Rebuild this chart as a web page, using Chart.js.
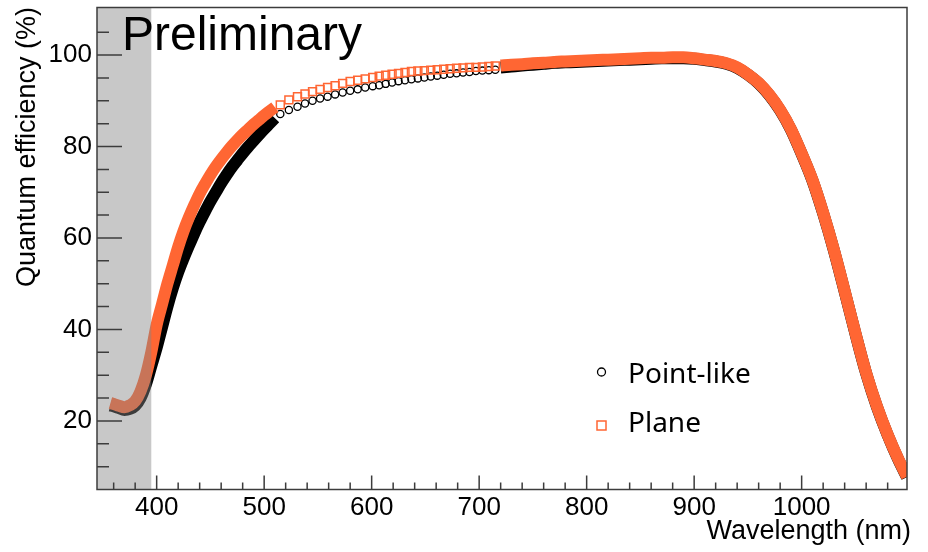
<!DOCTYPE html>
<html>
<head>
<meta charset="utf-8">
<title>Quantum efficiency</title>
<script src="https://cdn.jsdelivr.net/npm/chart.js@4.4.1/dist/chart.umd.min.js"></script>
<style>
	html, body { margin: 0; padding: 0; background: #ffffff; }
	#wrap { width: 928px; height: 552px; }
</style>
</head>
<body>
<div id="wrap"><canvas id="qeChart" width="928" height="552"></canvas></div>
<script>
// dense scan up to 510 nm
const riseWl = [357, 360, 365, 370, 375, 380, 385, 390, 395, 400, 405, 410, 415, 420, 425, 430,
	435, 440, 445, 450, 455, 460, 465, 470, 475, 480, 485, 490, 495, 500, 505, 510];
const planeRise = [23.9, 23.7, 23.3, 23.0, 23.4, 24.3, 26.5, 30.0, 35.0, 41.0, 45.5, 50.0, 54.0, 58.0, 61.5, 64.5,
	67.2, 69.7, 71.8, 73.8, 75.6, 77.2, 78.7, 80.1, 81.4, 82.6, 83.7, 84.8, 85.8, 86.8, 87.7, 88.6];
const pointRise = [23.4, 23.2, 22.8, 22.4, 22.6, 23.3, 25.0, 28.0, 32.0, 36.0, 40.5, 45.0, 49.0, 52.5, 55.5, 58.3,
	61.0, 63.5, 65.8, 68.0, 70.0, 72.0, 73.8, 75.5, 77.0, 78.5, 79.9, 81.2, 82.5, 83.8, 85.0, 86.2];

// coarse scan, shown as open markers
const stepWl = [515, 523, 531, 538, 545, 552, 559, 566, 573, 580, 587, 594, 601, 607, 613, 619,
	625, 631, 637, 643, 649, 655, 661, 667, 673, 679, 685, 691, 697, 703, 709, 715];
const planeStep = [89.1, 90.2, 90.9, 91.5, 92.0, 92.5, 92.9, 93.3, 93.8, 94.2, 94.5, 94.8, 95.1, 95.4, 95.6, 95.8,
	96.0, 96.2, 96.4, 96.5, 96.6, 96.7, 96.8, 96.9, 97.0, 97.1, 97.2, 97.3, 97.3, 97.4, 97.5, 97.6];
const pointStep = [87.1, 88.0, 88.7, 89.4, 90.0, 90.5, 90.9, 91.4, 91.8, 92.2, 92.5, 92.9, 93.2, 93.4, 93.7, 94.0,
	94.3, 94.5, 94.7, 94.9, 95.1, 95.3, 95.5, 95.7, 95.9, 96.0, 96.2, 96.3, 96.5, 96.6, 96.7, 96.8];

// dense scan from 720 nm to the end of the range
const tailWl = [720, 730, 740, 750, 760, 770, 780, 790, 800, 810, 820, 830, 840, 850, 860, 870, 880, 890, 900,
	910, 920, 930, 940, 950, 960, 970, 980, 990, 1000, 1010, 1020, 1030, 1040, 1050, 1060, 1070, 1080, 1090, 1098];
const planeTail = [97.7, 97.9, 98.0, 98.2, 98.3, 98.5, 98.6, 98.7, 98.8, 98.9, 99.0, 99.1, 99.2, 99.3, 99.4, 99.4, 99.5, 99.5, 99.3,
	99.0, 98.7, 98.2, 97.3, 95.8, 93.9, 91.3, 88.0, 83.8, 78.5, 72.7, 65.5, 57.4, 48.4, 39.2, 30.5, 23.2, 17.0, 11.6, 7.8];
const pointTail = [97.3, 97.5, 97.7, 97.9, 98.1, 98.3, 98.4, 98.5, 98.6, 98.7, 98.8, 98.9, 99.0, 99.1, 99.2, 99.3, 99.3, 99.3, 99.2,
	98.9, 98.6, 98.1, 97.2, 95.7, 93.8, 91.2, 87.9, 83.7, 78.4, 72.6, 65.4, 57.3, 48.3, 39.1, 30.4, 23.1, 16.9, 11.5, 7.7];

const xTicks = [400, 500, 600, 700, 800, 900, 1000];
const yTicks = [20, 40, 60, 80, 100];
const shadedUntil = 395;

const ORANGE = "#ff6633";
const INK = "#000000";
const FONT = "'Liberation Sans', Arial, sans-serif";

function pts(xs, ys) {
	return xs.map((x, i) => ({ x: x, y: ys[i] }));
}

function band(data, color, order) {
	return {
		data: data,
		showLine: true,
		borderColor: color,
		borderWidth: 12,
		borderCapStyle: "butt",
		cubicInterpolationMode: "monotone",
		pointRadius: 0,
		clip: 0,
		order: order,
	};
}

function markers(data, color, style, radius, width, order) {
	return {
		data: data,
		showLine: false,
		pointStyle: style,
		pointRadius: radius,
		pointBorderWidth: width,
		pointBorderColor: color,
		pointBackgroundColor: "rgba(0,0,0,0)",
		clip: 0,
		order: order,
	};
}

// shaded region, tick marks, frame and texts
const decorations = {
	id: "decorations",
	afterDatasetsDraw(chart) {
		const { ctx, chartArea: a, scales } = chart;
		const x = scales.x;
		const y = scales.y;
		ctx.save();

		const xr = x.getPixelForValue(shadedUntil);
		ctx.fillStyle = "rgba(133,133,133,0.45)";
		ctx.fillRect(a.left, a.top, xr - a.left, a.bottom - a.top);

		ctx.strokeStyle = "#3c3c3c";
		ctx.lineWidth = 1.5;
		ctx.beginPath();
		for (let v = 360; v <= 1080; v += 20) {
			const px = x.getPixelForValue(v);
			const len = v % 100 === 0 ? 14 : 7;
			ctx.moveTo(px, a.bottom);
			ctx.lineTo(px, a.bottom - len);
		}
		for (let v = 10; v <= 105; v += 5) {
			const py = y.getPixelForValue(v);
			const len = v % 20 === 0 ? 25 : 12;
			ctx.moveTo(a.left, py);
			ctx.lineTo(a.left + len, py);
		}
		ctx.stroke();
		ctx.strokeRect(a.left, a.top, a.right - a.left, a.bottom - a.top);

		ctx.fillStyle = INK;
		ctx.textBaseline = "alphabetic";
		ctx.font = "48px " + FONT;
		ctx.textAlign = "left";
		ctx.fillText("Preliminary", 122, 50);

		ctx.font = "27px " + FONT;
		ctx.textAlign = "right";
		ctx.fillText("Wavelength (nm)", 911, 539);

		ctx.save();
		ctx.translate(35, 7);
		ctx.rotate(-Math.PI / 2);
		ctx.textAlign = "right";
		ctx.fillText("Quantum efficiency (%)", 0, 0);
		ctx.restore();

		// legend
		ctx.lineWidth = 1.3;
		ctx.strokeStyle = INK;
		ctx.beginPath();
		ctx.arc(601.5, 372, 4, 0, Math.PI * 2);
		ctx.stroke();
		ctx.lineWidth = 1.5;
		ctx.strokeStyle = ORANGE;
		ctx.strokeRect(597, 421, 9, 9);

		ctx.font = "28px 'Noto Sans', 'Open Sans', sans-serif";
		ctx.textAlign = "left";
		ctx.fillStyle = INK;
		ctx.fillText("Point-like", 628, 383);
		ctx.fillText("Plane", 628, 431.5);
		ctx.restore();
	},
};

function qeChart() {
	const config = {
		type: "scatter",
		data: {
			datasets: [
				band(pts(riseWl, planeRise), ORANGE, 0),
				band(pts(tailWl, planeTail), ORANGE, 0),
				markers(pts(stepWl, planeStep), ORANGE, "rect", 5.6, 1.5, 0),
				band(pts(riseWl, pointRise), INK, 1),
				band(pts(tailWl, pointTail), INK, 1),
				markers(pts(stepWl, pointStep), INK, "circle", 3.6, 1.3, 1),
			],
		},
		options: {
			responsive: false,
			animation: false,
			layout: {
				padding: { left: 0, right: 21, top: 7.5, bottom: 0 },
			},
			plugins: {
				legend: { display: false },
				tooltip: { enabled: false },
			},
			scales: {
				x: {
					type: "linear",
					min: 344.5,
					max: 1098,
					grid: { display: false, drawTicks: false },
					border: { display: false },
					ticks: {
						color: INK,
						font: { family: FONT, size: 26 },
						padding: 3,
						autoSkip: false,
						minRotation: 0,
						maxRotation: 0,
						callback: (v) => String(v),
					},
					afterBuildTicks: (s) => {
						s.ticks = xTicks.map((v) => ({ value: v }));
					},
					afterFit: (s) => {
						s.height = 62.5;
						s.paddingLeft = 0;
						s.paddingRight = 0;
					},
				},
				y: {
					type: "linear",
					min: 5,
					max: 110.4,
					grid: { display: false, drawTicks: false },
					border: { display: false },
					ticks: {
						color: INK,
						font: { family: FONT, size: 26 },
						padding: 5,
						autoSkip: false,
						callback: (v) => String(v),
					},
					afterBuildTicks: (s) => {
						s.ticks = yTicks.map((v) => ({ value: v }));
					},
					afterFit: (s) => {
						s.width = 97;
						s.paddingTop = 0;
						s.paddingBottom = 0;
					},
				},
			},
		},
		plugins: [decorations],
	};

	const myChart = new Chart(document.getElementById("qeChart"), config);
}

qeChart();
</script>
</body>
</html>
